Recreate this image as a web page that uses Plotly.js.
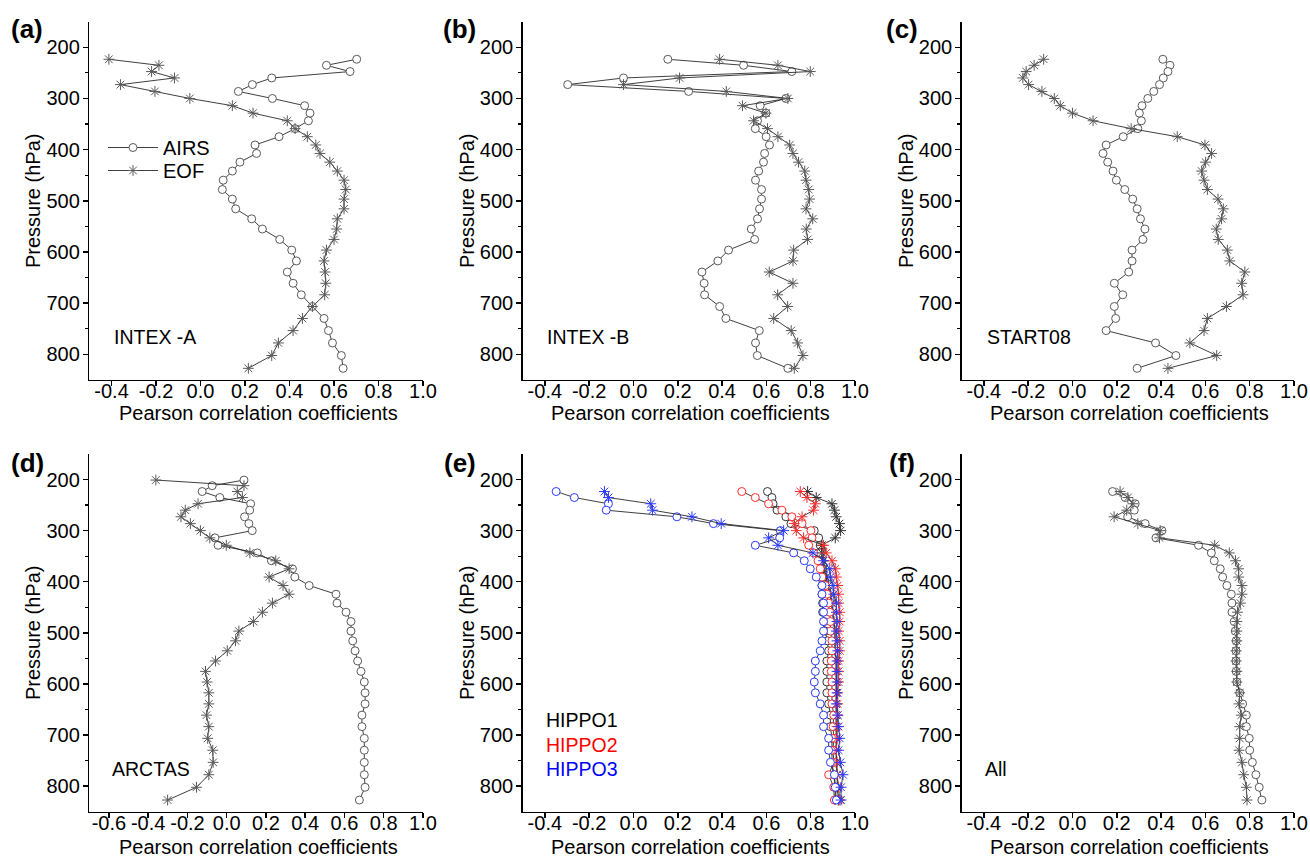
<!DOCTYPE html>
<html>
<head>
<meta charset="utf-8">
<script src="https://cdn.plot.ly/plotly-3.0.1.min.js"></script>
<style>html,body{margin:0;padding:0;background:#fff;}#chart{width:1310px;height:859px;}</style>
</head>
<body>
<div id="chart"></div>
<script>
// Pressure levels (hPa)
const pressureLevels = [223.44, 235.23, 247.41, 259.97, 272.92, 286.26, 300.0, 314.14, 328.68, 343.62, 358.97, 374.72, 390.89, 407.47, 424.47, 441.88, 459.71, 477.96, 496.63, 515.72, 535.23, 555.17, 575.52, 596.31, 617.51, 639.14, 661.19, 683.67, 706.57, 729.89, 753.63, 777.79, 802.37, 827.37];
const pressureLevelsArctas = [200.99, 212.03].concat(pressureLevels);

// (a) INTEX-A
const intexA_airs = [0.702,0.566,0.672,0.320,0.233,0.170,0.323,0.468,0.492,0.485,0.425,0.353,0.245,0.252,0.177,0.143,0.102,0.098,0.143,0.158,0.230,0.278,0.356,0.410,0.431,0.390,0.416,0.453,0.503,0.555,0.575,0.593,0.633,0.641];
const intexA_eof = [-0.412,-0.187,-0.220,-0.117,-0.360,-0.205,-0.048,0.143,0.236,0.390,0.425,0.480,0.518,0.537,0.581,0.615,0.645,0.653,0.645,0.645,0.615,0.612,0.600,0.566,0.555,0.560,0.563,0.558,0.503,0.458,0.416,0.350,0.320,0.215];
// (b) INTEX-B
const intexB_airs = [0.155,0.497,0.715,-0.045,-0.297,0.249,0.688,0.572,0.598,0.560,0.550,0.599,0.614,0.592,0.587,0.565,0.551,0.578,0.578,0.569,0.560,0.532,0.547,0.429,0.381,0.309,0.319,0.321,0.389,0.417,0.568,0.551,0.559,0.697];
const intexB_eof = [0.389,0.652,0.798,0.208,-0.045,0.419,0.697,0.492,0.598,0.542,0.605,0.652,0.705,0.720,0.745,0.773,0.779,0.791,0.795,0.779,0.809,0.780,0.786,0.723,0.720,0.613,0.720,0.651,0.696,0.633,0.712,0.741,0.765,0.726];
// (c) START08
const start08_airs = [0.408,0.440,0.431,0.410,0.393,0.367,0.340,0.314,0.302,0.311,0.295,0.229,0.152,0.138,0.159,0.183,0.198,0.236,0.272,0.292,0.307,0.327,0.318,0.269,0.269,0.254,0.189,0.227,0.189,0.195,0.152,0.375,0.467,0.292];
const start08_eof = [-0.130,-0.173,-0.209,-0.224,-0.198,-0.138,-0.082,-0.055,0.000,0.093,0.265,0.473,0.598,0.628,0.601,0.583,0.594,0.609,0.657,0.681,0.673,0.649,0.658,0.699,0.710,0.778,0.764,0.770,0.695,0.609,0.594,0.530,0.651,0.431];
// (d) ARCTAS
const arctas_airs = [0.088,-0.074,-0.125,-0.035,0.122,0.117,0.091,0.113,0.130,-0.060,-0.044,0.156,0.228,0.335,0.347,0.420,0.557,0.562,0.608,0.633,0.633,0.642,0.654,0.667,0.684,0.701,0.705,0.705,0.689,0.689,0.701,0.701,0.701,0.701,0.705,0.676];
const arctas_eof = [-0.361,0.088,0.054,0.080,-0.146,-0.211,-0.233,-0.185,-0.134,-0.086,-0.002,0.118,0.250,0.318,0.216,0.287,0.318,0.233,0.182,0.136,0.062,0.045,0.003,-0.057,-0.108,-0.100,-0.091,-0.091,-0.103,-0.091,-0.097,-0.071,-0.069,-0.091,-0.154,-0.301];
// (e) HIPPO
const hippo1_airs = [0.605,0.625,0.630,0.648,0.688,0.711,0.816,0.836,0.843,0.843,0.851,0.854,0.858,0.851,0.851,0.854,0.854,0.861,0.866,0.875,0.881,0.873,0.873,0.873,0.873,0.881,0.889,0.889,0.896,0.896,0.896,0.904,0.911,0.911];
const hippo1_eof = [0.786,0.825,0.896,0.907,0.915,0.930,0.935,0.911,0.850,0.850,0.855,0.860,0.870,0.880,0.890,0.895,0.900,0.905,0.910,0.910,0.910,0.915,0.915,0.915,0.915,0.915,0.915,0.915,0.915,0.915,0.915,0.920,0.920,0.925];
const hippo2_airs = [0.489,0.550,0.610,0.670,0.715,0.761,0.801,0.806,0.791,0.813,0.833,0.843,0.851,0.866,0.873,0.881,0.886,0.889,0.889,0.896,0.896,0.893,0.893,0.896,0.896,0.896,0.904,0.901,0.904,0.901,0.904,0.881,0.904,0.907];
const hippo2_eof = [0.753,0.783,0.821,0.813,0.761,0.726,0.735,0.768,0.858,0.870,0.896,0.911,0.916,0.922,0.926,0.926,0.931,0.931,0.926,0.931,0.931,0.926,0.926,0.926,0.922,0.922,0.922,0.919,0.919,0.916,0.919,0.919,0.926,0.931];
const hippo3_airs = [-0.349,-0.267,-0.113,-0.123,0.196,0.361,0.663,0.660,0.550,0.723,0.771,0.798,0.825,0.851,0.851,0.858,0.858,0.858,0.858,0.851,0.843,0.821,0.821,0.816,0.821,0.843,0.858,0.858,0.881,0.881,0.889,0.907,0.911,0.916];
const hippo3_eof = [-0.131,-0.113,0.078,0.086,0.264,0.396,0.678,0.610,0.652,0.810,0.858,0.886,0.889,0.901,0.904,0.916,0.916,0.919,0.916,0.919,0.922,0.919,0.919,0.919,0.919,0.916,0.922,0.926,0.931,0.926,0.934,0.946,0.937,0.937];
// (f) All
const all_airs = [0.181,0.238,0.283,0.279,0.249,0.328,0.404,0.377,0.569,0.627,0.640,0.667,0.678,0.697,0.717,0.720,0.720,0.730,0.735,0.739,0.738,0.738,0.739,0.742,0.755,0.768,0.785,0.785,0.798,0.800,0.812,0.828,0.843,0.855];
const all_eof = [0.215,0.250,0.273,0.245,0.188,0.295,0.396,0.393,0.642,0.708,0.736,0.750,0.750,0.765,0.765,0.758,0.745,0.742,0.742,0.742,0.739,0.739,0.742,0.742,0.755,0.752,0.762,0.755,0.755,0.752,0.765,0.773,0.785,0.788];

const xTicks = [-0.4,-0.2,0.0,0.2,0.4,0.6,0.8,1.0];
const xTicksArctas = [-0.6,-0.4,-0.2,0.0,0.2,0.4,0.6,0.8,1.0];
const yTicks = [200,300,400,500,600,700,800];
const panelLabels = ['(a)','(b)','(c)','(d)','(e)','(f)'];
const campaignLabels = ['INTEX -A','INTEX -B','START08','ARCTAS','All'];
const hippoLabels = ['HIPPO1','HIPPO2','HIPPO3'];
const seriesNames = ['AIRS','EOF'];
const xTitle = 'Pearson correlation coefficients';
const yTitle = 'Pressure (hPa)';

const FONT = 'Liberation Sans, Arial, sans-serif';
const GRAY = '#5a5a5a';
const LINE = '#2a2a2a';

function axNames(i){ return i===1 ? ['x','y'] : ['x'+i,'y'+i]; }
function airs(x, y, i, color, show){
  const [xa, ya] = axNames(i);
  return {type:'scatter', mode:'lines+markers', x:x, y:y, xaxis:xa, yaxis:ya, name:seriesNames[0], showlegend:!!show, legend:'legend',
    line:{color:LINE, width:0.9},
    marker:{symbol:'circle', size:8, color:'rgba(255,255,255,1)', line:{width:1, color:color||GRAY}}};
}
function eof(x, y, i, color, show){
  const [xa, ya] = axNames(i);
  return {type:'scatter', mode:'lines+markers', x:x, y:y, xaxis:xa, yaxis:ya, name:seriesNames[1], showlegend:!!show, legend:'legend2',
    line:{color:LINE, width:0.9},
    marker:{symbol:'asterisk-open', size:9, color:color||GRAY, line:{width:1, color:color||GRAY}}};
}

const RED = '#ff2a2a', BLUE = '#2a3aff', DARK = '#333';
const traces = [
  airs(intexA_airs, pressureLevels, 1, null, true),
  eof(intexA_eof, pressureLevels, 1, null, true),
  airs(intexB_airs, pressureLevels, 2), eof(intexB_eof, pressureLevels, 2),
  airs(start08_airs, pressureLevels, 3), eof(start08_eof, pressureLevels, 3),
  airs(arctas_airs, pressureLevelsArctas, 4), eof(arctas_eof, pressureLevelsArctas, 4),
  airs(hippo1_airs, pressureLevels, 5, DARK), eof(hippo1_eof, pressureLevels, 5, DARK),
  airs(hippo2_airs, pressureLevels, 5, RED), eof(hippo2_eof, pressureLevels, 5, RED),
  airs(hippo3_airs, pressureLevels, 5, BLUE), eof(hippo3_eof, pressureLevels, 5, BLUE),
  airs(all_airs, pressureLevels, 6), eof(all_eof, pressureLevels, 6)
];

const W = 1310, H = 859;
const colX = [[89.3,423],[522.7,855],[961.7,1294]];
const rowY = [[21.7,379.9],[454,811.6]];

function range(a,b,s){ const r=[]; for(let v=a; v<=b+1e-9; v+=s) r.push(Math.round(v*100)/100); return r; }

function xaxis(col,row,xr,ticks,anchor){
  return {domain:[colX[col][0]/W, colX[col][1]/W], range:xr, anchor:anchor,
    showline:true, linecolor:'#000', linewidth:1.5, mirror:false,
    ticks:'outside', ticklen:5, tickwidth:1.5, tickcolor:'#000', ticklabelstandoff:-12,
    tickmode:'array', tickvals:ticks, ticktext:ticks.map(v=>v.toFixed(1)),
    minor:{tickmode:'array', tickvals:range(xr[0]+0.1, xr[1]-0.05, 0.2), ticks:'outside', ticklen:3, tickwidth:1.2, tickcolor:'#000', showgrid:false},
    showgrid:false, zeroline:false, tickfont:{size:20, color:'#000', family:FONT},
    title:{text:''}};
}
function yaxis(col,row,anchor){
  return {domain:[(H-rowY[row][1])/H, (H-rowY[row][0])/H], range:[850,150], anchor:anchor,
    showline:true, linecolor:'#000', linewidth:1.5, mirror:false,
    ticks:'outside', ticklen:5, tickwidth:1.5, tickcolor:'#000', ticklabelstandoff:-1,
    tickmode:'array', tickvals:yTicks, ticktext:yTicks.map(String),
    minor:{tickmode:'array', tickvals:range(250,750,100), ticks:'outside', ticklen:3, tickwidth:1.2, tickcolor:'#000', showgrid:false},
    showgrid:false, zeroline:false, tickfont:{size:20, color:'#000', family:FONT},
    title:{text:yTitle, font:{size:20, color:'#000', family:FONT}, standoff:0}};
}

const legendBase = {xanchor:'left', yanchor:'top', bgcolor:'rgba(0,0,0,0)', font:{size:20, family:FONT, color:'#000'}, itemwidth:50, tracegroupgap:0};
const layout = {
  width:W, height:H, margin:{l:0,r:0,t:0,b:0}, paper_bgcolor:'#fff', plot_bgcolor:'#fff',
  font:{family:FONT, color:'#000'},
  xaxis: xaxis(0,0,[-0.5,1.0],xTicks,'y'),   yaxis: yaxis(0,0,'x'),
  xaxis2: xaxis(1,0,[-0.5,1.0],xTicks,'y2'), yaxis2: yaxis(1,0,'x2'),
  xaxis3: xaxis(2,0,[-0.5,1.0],xTicks,'y3'), yaxis3: yaxis(2,0,'x3'),
  xaxis4: xaxis(0,1,[-0.7,1.0],xTicksArctas,'y4'), yaxis4: yaxis(0,1,'x4'),
  xaxis5: xaxis(1,1,[-0.5,1.0],xTicks,'y5'), yaxis5: yaxis(1,1,'x5'),
  xaxis6: xaxis(2,1,[-0.5,1.0],xTicks,'y6'), yaxis6: yaxis(2,1,'x6'),
  showlegend:true,
  legend:Object.assign({x:103/W, y:(H-128)/H}, legendBase),
  legend2:Object.assign({x:103/W, y:(H-151)/H}, legendBase),
  annotations:[]
};

// x-axis titles
const xTitleY = [413, 847];
for(let r=0;r<2;r++) for(let c=0;c<3;c++){
  layout.annotations.push({text:xTitle, xref:'paper', yref:'paper', x:(colX[c][0]+colX[c][1])/2/W + 2/W, y:(H-xTitleY[r])/H, xanchor:'center', yanchor:'middle', showarrow:false, font:{size:20, family:FONT, color:'#000'}});
}

const panelPos = [[27,29],[460,29],[902,29],[27,463],[460,463],[902,463]];
panelLabels.forEach((t,k)=>{
  layout.annotations.push({text:'<b>'+t+'</b>', xref:'paper', yref:'paper', x:panelPos[k][0]/W, y:(H-panelPos[k][1])/H, xanchor:'center', yanchor:'middle', showarrow:false, font:{size:26, family:FONT, color:'#000'}});
});
const campPos = [[112,337],[545,337],[985,337],[110,769],[983,769]];
campaignLabels.forEach((t,k)=>{
  layout.annotations.push({text:t, xref:'paper', yref:'paper', x:campPos[k][0]/W, y:(H-campPos[k][1])/H, xanchor:'left', yanchor:'middle', showarrow:false, font:{size:19.5, family:FONT, color:'#000'}});
});
const hippoColors = ['#000','#ff0000','#0000ff'];
const hippoY = [720,745,769];
hippoLabels.forEach((t,k)=>{
  layout.annotations.push({text:t, xref:'paper', yref:'paper', x:544/W, y:(H-hippoY[k])/H, xanchor:'left', yanchor:'middle', showarrow:false, font:{size:19.5, family:FONT, color:hippoColors[k]}});
});

Plotly.newPlot('chart', traces, layout, {displayModeBar:false, staticPlot:true});
</script>
</body>
</html>
